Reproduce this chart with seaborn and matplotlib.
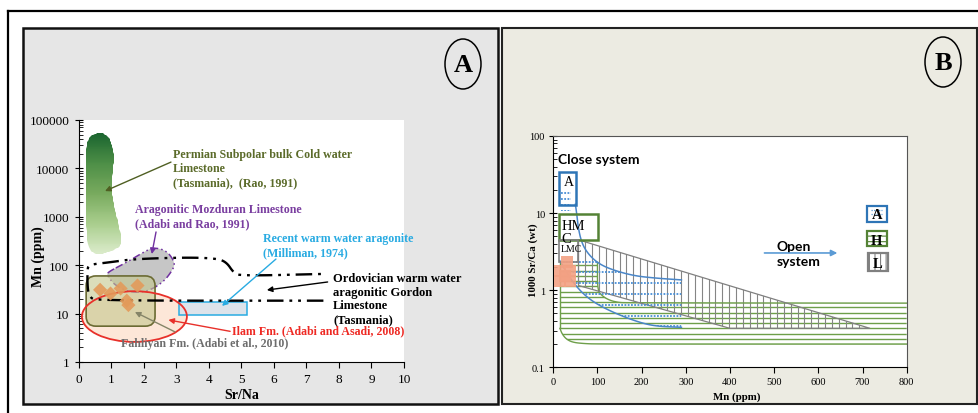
import numpy as np
import pandas as pd
import matplotlib
matplotlib.use("Agg")
import matplotlib.pyplot as plt
import seaborn as sns
from matplotlib.patches import Rectangle, Ellipse, Polygon, FancyBboxPatch
from matplotlib.lines import Line2D
from matplotlib.colors import LinearSegmentedColormap
from matplotlib.ticker import LogLocator, NullFormatter, FixedLocator, FixedFormatter

# ---------------- Panel A data (Sr/Na vs Mn ppm) ----------------
ilam_srna = [0.65, 0.97, 1.28, 1.47, 1.52, 1.80]
ilam_mn = [31, 26, 33, 18.5, 15, 38]

permian_srna = [0.62, 0.86, 1.04, 1.08, 1.00, 1.04, 1.15, 1.32, 1.28, 0.90, 0.52, 0.24, 0.20, 0.21, 0.30]
permian_mn = [56000, 50000, 30000, 14000, 5200, 2200, 1050, 350, 240, 185, 160, 240, 2300, 25000, 45000]

mozduran_srna = [0.87, 1.47, 1.98, 2.29, 2.70, 2.95, 2.90, 2.59, 2.08, 1.57, 1.11, 0.87]
mozduran_mn = [71, 115, 185, 234, 200, 115, 83, 44, 28, 27.5, 38, 61]

gordon_srna = [7.52, 0.54, 0.32, 0.26, 0.26, 0.30, 0.44, 0.95, 1.67, 3.31, 4.24, 4.54, 4.75, 4.95, 7.52]
gordon_mn = [18.5, 18.5, 22, 35, 83, 98, 105, 115, 134, 145, 138, 115, 71, 60, 66]

milliman_srna = [3.08, 5.17]
milliman_mn = [9.4, 17.4]

fahliyan_srna = [0.22, 2.34]
fahliyan_mn = [5.5, 60]

ilam_field_srna = [0.09, 3.32]
ilam_field_mn = [2.6, 29]

# ---------------- Panel B data (Mn ppm vs 1000 Sr/Ca) ----------------
sample_mn = [32, 15, 38, 15, 38, 26]
sample_srca = [2.35, 1.75, 1.75, 1.32, 1.32, 1.55]

arag_upper_mn = [50, 53, 57, 64, 76, 98, 128, 181, 234, 290]
arag_upper_srca = [13, 9.8, 6.2, 4.2, 3.1, 2.3, 1.88, 1.54, 1.43, 1.36]
arag_lower_mn = [15, 30, 45, 68, 98, 144, 196, 234, 290]
arag_lower_srca = [2.4, 1.71, 1.26, 0.89, 0.66, 0.49, 0.38, 0.34, 0.33]

hmc_upper_mn = [100, 100, 110, 125, 143, 165, 800]
hmc_upper_srca = [2.3, 1.0, 0.85, 0.75, 0.70, 0.685, 0.68]
hmc_lower_mn = [15, 20, 30, 45, 70, 100, 800]
hmc_lower_srca = [0.32, 0.27, 0.23, 0.21, 0.203, 0.2, 0.2]

lmc_field_mn = [57, 717, 400, 100, 57]
lmc_field_srca = [4.5, 0.32, 0.32, 0.98, 1.15]

box_arag_mn = [13.6, 50.7]
box_arag_srca = [12.9, 34.4]
box_hmc_mn = [13.6, 101.9]
box_hmc_srca = [4.5, 9.7]
box_lmc_mn = [13.6, 56]
box_lmc_srca = [2.3, 4.5]

open_arrow_mn = [478, 643]
open_arrow_srca = [3.04, 3.04]

# ---------------- helpers ----------------
W, H = 979, 414
plt.rcParams['font.family'] = ['Liberation Serif', 'DejaVu Serif']
plt.rcParams['hatch.linewidth'] = 0.8
fig = plt.figure(figsize=(W / 100, H / 100), dpi=100)


def fx(p):
    return p / W


def fy(p):
    return 1 - p / H


def chaikin(pts, n=3, closed=True):
    pts = np.asarray(pts, float)
    for _ in range(n):
        if closed:
            p0, p1 = pts, np.roll(pts, -1, axis=0)
        else:
            p0, p1 = pts[:-1], pts[1:]
        new = np.empty((2 * len(p0), 2))
        new[0::2] = 0.75 * p0 + 0.25 * p1
        new[1::2] = 0.25 * p0 + 0.75 * p1
        if not closed:
            new = np.vstack([pts[:1], new, pts[-1:]])
        pts = new
    return pts


def smooth(xs, ys, n=3, closed=True):
    P = np.column_stack([np.asarray(xs, float), np.log10(ys)])
    S = chaikin(P, n, closed)
    return S[:, 0], 10 ** S[:, 1]


# ---------------- figure decorations ----------------
fig.patches.append(Rectangle((fx(23), fy(405)), fx(498) - fx(23), fy(29) - fy(405),
                             transform=fig.transFigure, fc='#e6e6e6', ec='#111111', lw=1.8, zorder=-10))
fig.patches.append(Rectangle((fx(502), fy(405)), fx(977) - fx(502), fy(29) - fy(405),
                             transform=fig.transFigure, fc='#ecebe2', ec='#222222', lw=1.5, zorder=-10))
fig.lines.append(Line2D([fx(8), fx(8)], [fy(12), 0], transform=fig.transFigure, color='black', lw=1.6))
fig.lines.append(Line2D([fx(8), 1], [fy(12), fy(12)], transform=fig.transFigure, color='black', lw=1.6))
for cx, cy, lab in [(463, 65, 'A'), (943, 63, 'B')]:
    fig.patches.append(Ellipse((fx(cx), fy(cy)), 36 / W, 50 / H, transform=fig.transFigure,
                               fc='none', ec='black', lw=1.1, zorder=5))
    fig.text(fx(cx), fy(cy), lab, ha='center', va='center', fontsize=19, fontweight='bold')

# ================= Panel A =================
axA = fig.add_axes([fx(79), fy(363), fx(404) - fx(79), fy(121) - fy(363)])
axA.set_facecolor('white')
axA.set_yscale('log')
axA.set_xlim(0, 10)
axA.set_ylim(1, 1e5)
for s in ['top', 'right']:
    axA.spines[s].set_visible(False)
axA.set_xticks(range(0, 11))
axA.yaxis.set_major_locator(FixedLocator([1, 10, 100, 1000, 10000, 100000]))
axA.yaxis.set_major_formatter(FixedFormatter(['1', '10', '100', '1000', '10000', '100000']))
axA.yaxis.set_minor_locator(LogLocator(base=10, subs=np.arange(2, 10), numticks=20))
axA.yaxis.set_minor_formatter(NullFormatter())
axA.tick_params(axis='y', which='major', direction='inout', length=6, labelsize=9.5, pad=4)
axA.tick_params(axis='y', which='minor', direction='in', length=3)
axA.tick_params(axis='x', which='major', direction='out', length=4, labelsize=9.5, pad=4)
fig.text(fx(242), fy(396), 'Sr/Na', ha='center', va='center', fontsize=10, fontweight='bold')
fig.text(fx(38), fy(257), 'Mn (ppm)', ha='center', va='center', fontsize=10, fontweight='bold', rotation=90)

# Permian green gradient blob
px_, py_ = smooth(permian_srna, permian_mn, 3, True)
perm_patch = Polygon(np.column_stack([px_, py_]), closed=True, fc='none', ec='none')
axA.add_patch(perm_patch)
yed = np.logspace(2.0, 4.9, 150)
gcm = LinearSegmentedColormap.from_list('g', ['#d9eac8', '#a8cd8c', '#78aa5e', '#4e8f47', '#1c6630'])
mesh = axA.pcolormesh([0, 2], yed, np.log10(yed[:-1])[:, None], cmap=gcm, vmin=2.25, vmax=4.7,
                      shading='flat', zorder=2)
mesh.set_clip_path(perm_patch)

# Mozduran purple dash-dot shape
mx_, my_ = smooth(mozduran_srna, mozduran_mn, 3, True)
axA.add_patch(Polygon(np.column_stack([mx_, my_]), closed=True, fc='#c6c6c6', ec='#7030a0', lw=1.1,
                      linestyle=(0, (5, 2, 1, 2, 1, 2)), zorder=3))

# Ilam field (red ellipse) fill
ex0 = np.array(ilam_field_srna) / 10.0
ey0 = np.log10(ilam_field_mn) / 5.0
axA.add_patch(Ellipse((ex0.mean(), ey0.mean()), ex0[1] - ex0[0], ey0[1] - ey0[0], transform=axA.transAxes,
                      fc='#fde2cf', ec='none', alpha=0.8, zorder=2.5))

# Fahliyan olive rounded box
bx = np.array(fahliyan_srna) / 10.0
by = np.log10(fahliyan_mn) / 5.0
axA.add_patch(FancyBboxPatch((bx[0], by[0]), bx[1] - bx[0], by[1] - by[0],
                             boxstyle='round,pad=0,rounding_size=0.03', mutation_aspect=325 / 242,
                             transform=axA.transAxes, fc='#c3c78c', ec='none', alpha=0.6, zorder=3))
axA.add_patch(FancyBboxPatch((bx[0], by[0]), bx[1] - bx[0], by[1] - by[0],
                             boxstyle='round,pad=0,rounding_size=0.03', mutation_aspect=325 / 242,
                             transform=axA.transAxes, fc='none', ec='#6b6b33', lw=1.2, zorder=3.2))
# red ellipse edge
axA.add_patch(Ellipse((ex0.mean(), ey0.mean()), ex0[1] - ex0[0], ey0[1] - ey0[0], transform=axA.transAxes,
                      fc='none', ec='#e8302a', lw=1.3, zorder=3.5))

# Milliman blue rectangle
axA.add_patch(Rectangle((milliman_srna[0], milliman_mn[0]), milliman_srna[1] - milliman_srna[0],
                        milliman_mn[1] - milliman_mn[0], fc='#dde3ea', ec='#29abe2', lw=1.1, zorder=3))

# Gordon (Ordovician) dash-dot-dot outline
ox_, oy_ = smooth(gordon_srna, gordon_mn, 3, False)
sns.lineplot(x=ox_, y=oy_, sort=False, estimator=None, ax=axA, color='black', lw=1.7, zorder=4)
axA.lines[-1].set_dashes([7, 2.5, 1.2, 2.5, 1.2, 2.5])

# Ilam samples
sns.scatterplot(x=ilam_srna, y=ilam_mn, ax=axA, marker='D', s=52, color='#e39a5a', edgecolor='none',
                alpha=0.9, zorder=5)


# annotations panel A
def arrow(ax, xy, xytext, color, lw=1.0):
    ax.annotate('', xy=xy, xytext=xytext, zorder=6,
                arrowprops=dict(arrowstyle='-|>', color=color, lw=lw, mutation_scale=8,
                                shrinkA=0, shrinkB=0))


arrow(axA, (0.8, 3400), (2.83, 13500), '#4f5f22')
arrow(axA, (2.24, 170), (2.37, 486), '#7030a0')
arrow(axA, (4.4, 14.4), (6.06, 134), '#29abe2')
arrow(axA, (5.78, 30.7), (7.65, 45), 'black')
arrow(axA, (2.75, 7.4), (4.65, 4.3), '#e8302a')
arrow(axA, (1.72, 10.8), (2.95, 4.2), '#858568')

tkw = dict(fontsize=8.6, fontweight='bold', va='top', linespacing=1.22, zorder=7)
axA.text(2.9, 26300, 'Permian Subpolar bulk Cold water\nLimestone\n(Tasmania),  (Rao, 1991)',
         color='#5b6b2a', **tkw)
axA.text(1.72, 1930, 'Aragonitic Mozduran Limestone\n(Adabi and Rao, 1991)', color='#7a3ea0', **tkw)
axA.text(5.65, 485, 'Recent warm water aragonite\n(Milliman, 1974)', color='#29abe2', **tkw)
axA.text(7.82, 73, 'Ordovician warm water\naragonitic Gordon\nLimestone\n(Tasmania)', color='black',
         fontsize=9, fontweight='bold', va='top', linespacing=1.2, zorder=7, clip_on=False)
axA.text(4.72, 4.6, 'Ilam Fm. (Adabi and Asadi, 2008)', color='#ee2a24', fontsize=8.6,
         fontweight='bold', va='center', zorder=8, clip_on=False)
axA.text(1.28, 2.47, 'Fahliyan Fm. (Adabi et al., 2010)', color='#6d6d6d', fontsize=8.6,
         fontweight='bold', va='center', zorder=7)

# ================= Panel B =================
axB = fig.add_axes([fx(553.3), fy(368.3), fx(906.7) - fx(553.3), fy(137) - fy(368.3)])
axB.set_facecolor('white')
axB.set_yscale('log')
axB.set_xlim(0, 800)
axB.set_ylim(0.1, 100)
axB.spines['left'].set_color('black')
axB.spines['bottom'].set_color('black')
axB.spines['top'].set_color('#555555')
axB.spines['right'].set_color('#555555')
axB.set_xticks(range(0, 801, 100))
axB.yaxis.set_major_locator(FixedLocator([0.1, 1, 10, 100]))
axB.yaxis.set_major_formatter(FixedFormatter(['0.1', '1', '10', '100']))
axB.yaxis.set_minor_locator(LogLocator(base=10, subs=np.arange(2, 10), numticks=20))
axB.yaxis.set_minor_formatter(NullFormatter())
axB.tick_params(axis='y', which='major', direction='inout', length=6, labelsize=7.5, pad=3)
axB.tick_params(axis='y', which='minor', direction='in', length=3)
axB.tick_params(axis='x', which='major', direction='out', length=4, labelsize=7.5, pad=3)
fig.text(fx(737), fy(397), 'Mn (ppm)', ha='center', va='center', fontsize=7.8, fontweight='bold')
fig.text(fx(533), fy(260), '1000 Sr/Ca (wt)', ha='center', va='center', fontsize=7.8,
         fontweight='bold', rotation=90)

# green (HMC) field with horizontal lines
ux, uy = smooth(hmc_upper_mn, hmc_upper_srca, 3, False)
lx, ly = smooth(hmc_lower_mn, hmc_lower_srca, 3, False)
gverts = np.vstack([[[hmc_lower_mn[0], hmc_upper_srca[0]]], np.column_stack([ux, uy]),
                    np.column_stack([lx, ly])[::-1]])
gpatch = Polygon(gverts, closed=True, fc='none', ec='none')
axB.add_patch(gpatch)
glev = 10 ** np.arange(np.log10(0.2), np.log10(2.3) + 1e-9, 0.068)
gl = axB.hlines(glev, 0, 800, colors='#6e9f4a', lw=1.0, zorder=1)
gl.set_clip_path(gpatch)
axB.plot(ux[ux >= 100], uy[ux >= 100], color='#6e9f4a', lw=1.0, zorder=2)
axB.plot(lx, ly, color='#6e9f4a', lw=1.0, zorder=2)
axB.plot([hmc_lower_mn[0], hmc_lower_mn[0]], [hmc_lower_srca[0], hmc_upper_srca[0]], color='#6e9f4a',
         lw=1.0, zorder=2)

# gray (LMC) field with vertical lines
lpatch = Polygon(np.column_stack([lmc_field_mn, lmc_field_srca]), closed=True, fc='none',
                 ec='#808080', lw=0.9, zorder=2)
axB.add_patch(lpatch)
vl = axB.vlines(np.arange(57, 720, 15.5), 0.1, 10, colors='#858585', lw=0.8, zorder=1.5)
vl.set_clip_path(lpatch)

# aragonite field with dotted lines
aux, auy = smooth(arag_upper_mn, arag_upper_srca, 3, False)
alx, aly = smooth(arag_lower_mn, arag_lower_srca, 3, False)
top_y = arag_lower_srca[0]
xi = np.interp(np.log10(top_y), np.log10(auy[::-1]), aux[::-1])
keep = auy < top_y
averts = np.vstack([[[alx[0], top_y], [xi, top_y]], np.column_stack([aux[keep], auy[keep]]),
                    np.column_stack([alx, aly])[::-1]])
apatch = Polygon(averts, closed=True, fc='none', ec='none')
axB.add_patch(apatch)
alev = 10 ** np.arange(np.log10(0.34), np.log10(2.45), 0.14)
dl = axB.hlines(alev, 0, 300, colors='#4a8fd6', lw=1.3, linestyles=(0, (1, 0.8)), zorder=2.5)
dl.set_clip_path(apatch)
bpatch = Rectangle((box_arag_mn[0], 10.5), box_arag_mn[1] - box_arag_mn[0], 9, fc='none', ec='none')
axB.add_patch(bpatch)
blev = 10 ** np.arange(np.log10(10.6), np.log10(19.5), 0.08)
dl2 = axB.hlines(blev, 18, 40, colors='#4a8fd6', lw=1.3, linestyles=(0, (1, 0.8)), zorder=2.5)
dl2.set_clip_path(bpatch)

sns.lineplot(x=aux, y=auy, sort=False, estimator=None, ax=axB, color='#4a86c8', lw=1.1, zorder=3)
sns.lineplot(x=alx, y=aly, sort=False, estimator=None, ax=axB, color='#4a86c8', lw=1.1, zorder=3)

# boxes
axB.add_patch(Rectangle((box_arag_mn[0], box_arag_srca[0]), box_arag_mn[1] - box_arag_mn[0],
                        box_arag_srca[1] - box_arag_srca[0], fc='none', ec='#2e75b6', lw=1.8, zorder=4))
axB.add_patch(Rectangle((box_hmc_mn[0], box_hmc_srca[0]), box_hmc_mn[1] - box_hmc_mn[0],
                        box_hmc_srca[1] - box_hmc_srca[0], fc='none', ec='#548235', lw=1.8, zorder=4))
axB.add_patch(Rectangle((box_lmc_mn[0], box_lmc_srca[0]), box_lmc_mn[1] - box_lmc_mn[0],
                        box_lmc_srca[1] - box_lmc_srca[0], fc='none', ec='#7f7f7f', lw=1.2, zorder=4))

# samples
sns.scatterplot(x=sample_mn, y=sample_srca, ax=axB, marker='s', s=75, color='#f3a183', edgecolor='none',
                alpha=0.9, zorder=5)

# labels
axB.text(35.5, 25.5, 'A', ha='center', va='center', fontsize=10, zorder=6)
axB.text(18, 7.0, 'HM', ha='left', va='center', fontsize=10.5, zorder=6)
axB.text(18, 4.7, 'C', ha='left', va='center', fontsize=10.5, zorder=6)
axB.text(17, 3.45, 'LMC', ha='left', va='center', fontsize=7, zorder=6)
axB.text(11, 50, 'Close system', ha='left', va='center', fontsize=10, fontweight='bold',
         family=['Lato', 'DejaVu Sans'], zorder=6)
axB.text(506, 2.99, 'Open\nsystem', ha='left', va='center', fontsize=10, fontweight='bold',
         family=['Lato', 'DejaVu Sans'], linespacing=1.3, zorder=6)
axB.annotate('', xy=(open_arrow_mn[1], open_arrow_srca[1]), xytext=(open_arrow_mn[0], open_arrow_srca[0]),
             arrowprops=dict(arrowstyle='-|>', color='#5b9bd5', lw=1.2, mutation_scale=9,
                             shrinkA=0, shrinkB=0), zorder=6)


# key boxes (layout in axes fraction)
def keybox(x0, y0, w, h, ec, hatch, letter):
    r = Rectangle((x0, y0), w, h, transform=axB.transAxes, fc='white', ec=ec, lw=1.6,
                  hatch=hatch, zorder=6)
    axB.add_patch(r)
    axB.text(x0 + w / 2, y0 + h * 0.42, letter, transform=axB.transAxes, ha='center', va='center',
             fontsize=10.5, fontweight='bold', zorder=7)


keybox(0.887, 0.630, 0.057, 0.069, '#2e75b6', None, 'A')
for yy in (0.678, 0.662):
    axB.plot([0.90, 0.93], [yy, yy], transform=axB.transAxes, color='#5b9bd5', lw=0.9,
             linestyle=(0, (1, 1)), zorder=6.5)
keybox(0.887, 0.523, 0.057, 0.065, '#548235', '---', 'H')
keybox(0.890, 0.418, 0.057, 0.076, '#808080', '|||', 'L')

fig.savefig('out.png', dpi=100)
